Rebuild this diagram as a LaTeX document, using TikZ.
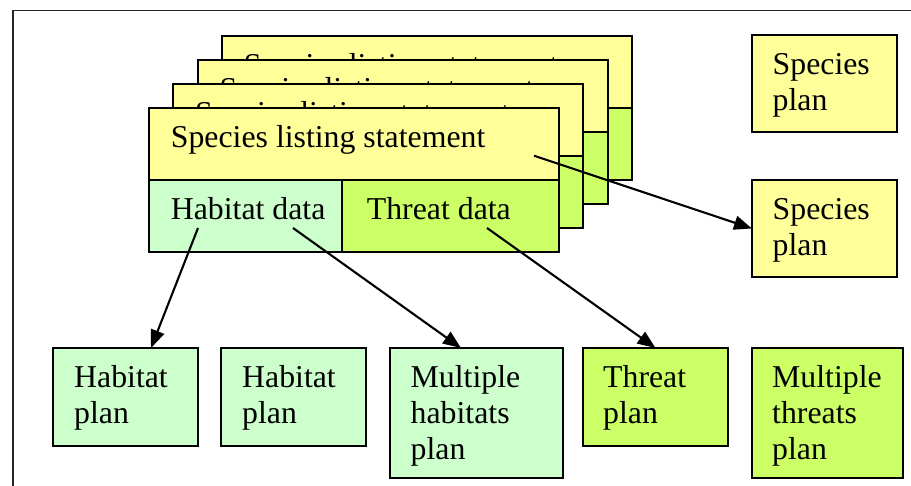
\documentclass[tikz,border=0pt]{standalone}
\usepackage{fontspec}
\setmainfont{Liberation Serif}
\usetikzlibrary{arrows.meta}

\definecolor{slsyellow}{RGB}{255,255,153}
\definecolor{habgreen}{RGB}{204,255,204}
\definecolor{thrgreen}{RGB}{204,255,102}

\tikzset{
  box/.style={draw, line width=2.1pt, anchor=north west, inner sep=0pt, outer sep=0pt},
  plan/.style={box, minimum width=145pt, minimum height=98pt},
  bigplan/.style={box, minimum height=130pt},
  txt/.style={anchor=base west, inner sep=0pt, text width=140pt, align=left},
  link/.style={->, line width=2.1pt},
}

\begin{document}
\begin{tikzpicture}[x=1pt, y=-1pt, font=\fontsize{31.8}{36}\selectfont,
    >={Triangle[length=18pt,width=14pt]}]
    \useasboundingbox (0,0) rectangle (911,486);

    % Frame
    \draw[line width=1.5pt, black!85] (13,10.5) rectangle (930,500);

    % Listing statements, back to front
    \foreach \k in {3,2,1,0} {
        \begin{scope}[shift={(149+24.3*\k, 108-24*\k)}]
            \node[box, fill=slsyellow, minimum width=410pt, minimum height=72pt] (sls\k) at (0,0) {};
            \node[box, fill=habgreen, minimum width=193pt, minimum height=72pt] (hd\k) at (0,72) {};
            \node[box, fill=thrgreen, minimum width=217pt, minimum height=72pt] (td\k) at (193,72) {};
            \node[anchor=base west, inner sep=0pt] (sls\k-txt) at (21.7,39.3) {Species listing statement};
            \node[anchor=base west, inner sep=0pt] (hd\k-txt) at (21.7,111.3) {Habitat data};
            \node[anchor=base west, inner sep=0pt] (td\k-txt) at (217.7,111.3) {Threat data};
        \end{scope}
    }

    % Species plans
    \node[plan, fill=slsyellow, minimum height=97pt] (sp1) at (752,35) {};
    \node[txt] (sp1-txt) at ([shift={(20.5,40)}]sp1.north west) {Species\\plan};
    \node[plan, fill=slsyellow, minimum height=97pt] (sp2) at (752,180) {};
    \node[txt] (sp2-txt) at ([shift={(20.5,40)}]sp2.north west) {Species\\plan};

    % Habitat and threat plans
    \node[plan, fill=habgreen] (hp1) at (53,348) {};
    \node[txt] (hp1-txt) at ([shift={(21,40)}]hp1.north west) {Habitat\\plan};
    \node[plan, fill=habgreen] (hp2) at (221,348) {};
    \node[txt] (hp2-txt) at ([shift={(21,40)}]hp2.north west) {Habitat\\plan};
    \node[bigplan, fill=habgreen, minimum width=173pt] (mhp) at (390,348) {};
    \node[txt] (mhp-txt) at ([shift={(20.5,40)}]mhp.north west) {Multiple\\habitats\\plan};
    \node[plan, fill=thrgreen] (tp) at (583,348) {};
    \node[txt] (tp-txt) at ([shift={(20,40)}]tp.north west) {Threat\\plan};
    \node[bigplan, fill=thrgreen, minimum width=151pt] (mtp) at (752,348) {};
    \node[txt] (mtp-txt) at ([shift={(20,40)}]mtp.north west) {Multiple\\threats\\plan};

    % Links
    \coordinate (sls-a) at (534,155.7);
    \coordinate (hd-a) at (198,228);
    \coordinate (hd-b) at (293,228);
    \coordinate (td-a) at (487,228);
    \draw[link] (sls-a) -- (sp2.west);
    \draw[link] (hd-a) -- ([xshift=98pt]hp1.north west);
    \draw[link] (hd-b) -- ([xshift=71pt]mhp.north west);
    \draw[link] (td-a) -- (tp.north);
\end{tikzpicture}
\end{document}
